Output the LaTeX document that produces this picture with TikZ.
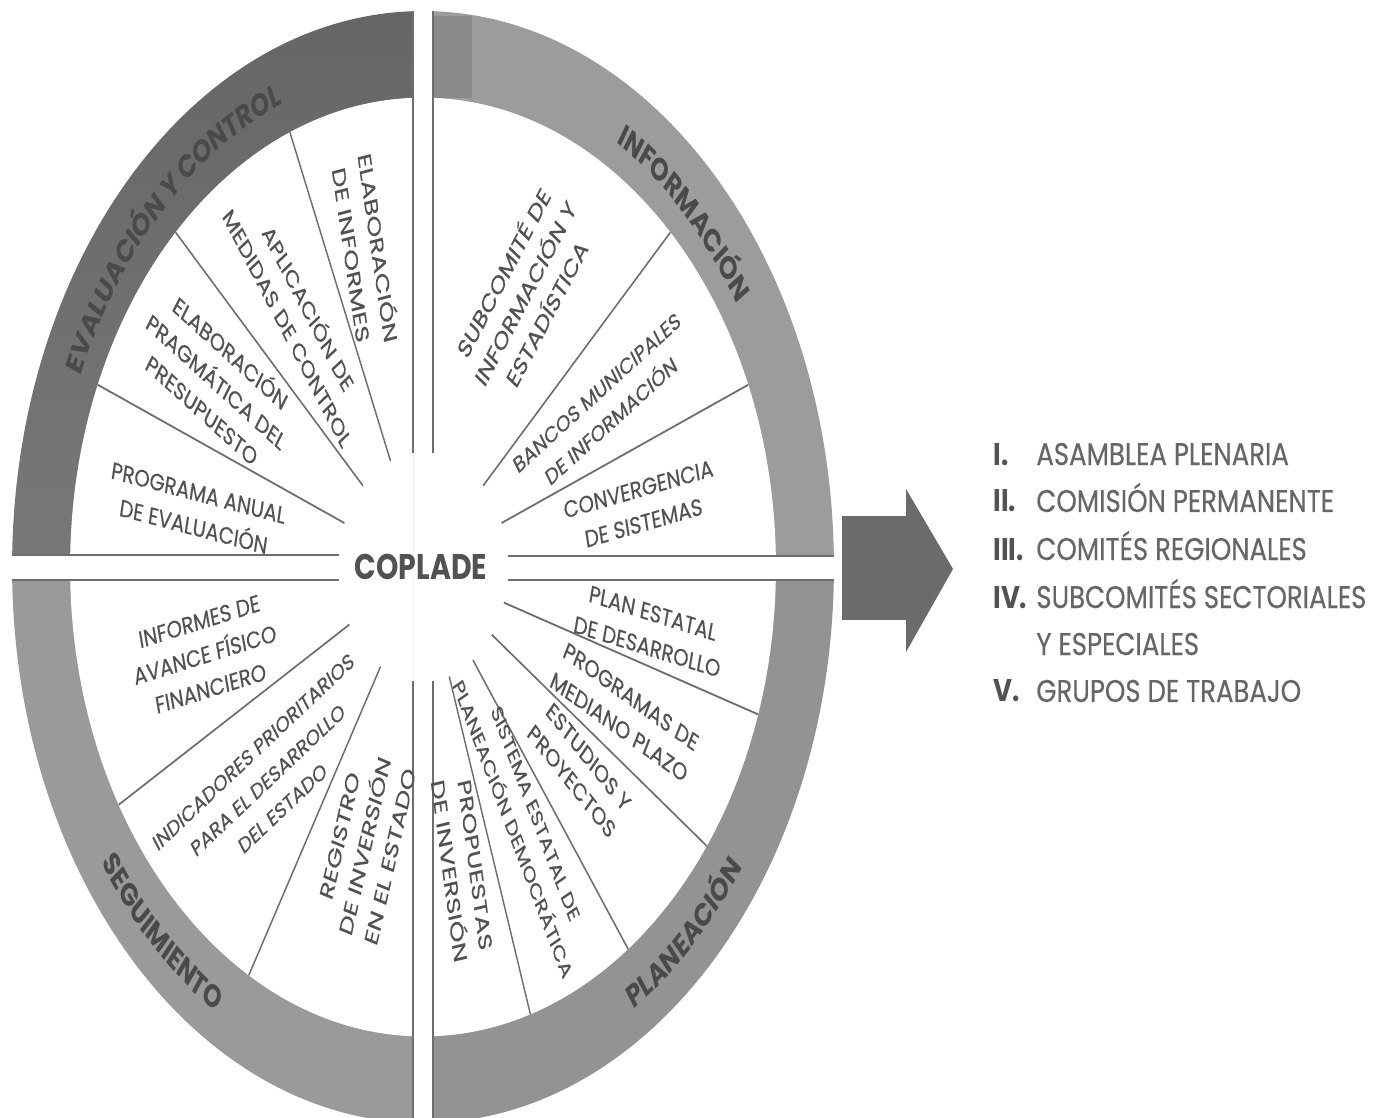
\documentclass[tikz,border=0pt]{standalone}
\usepackage{fontspec}
\setmainfont{Poppins}
\newfontfamily\wheelfont{Poppins}[FakeStretch=1.12,FakeBold=0.35]
\newfontfamily\labelfont{Poppins}
\newfontfamily\copfont{Poppins}[FakeStretch=1.08]
\newfontfamily\listfont{Poppins}[FakeStretch=1.12,FakeBold=0.4]
\newfontfamily\listnumfont{Poppins}[FakeStretch=1.12]
\usetikzlibrary{decorations.text}
\definecolor{bandAtop}{HTML}{666666}
\definecolor{bandAbot}{HTML}{8A8A8A}
\definecolor{bandB}{HTML}{9C9C9C}
\definecolor{bandC}{HTML}{9A9A9A}
\definecolor{bandD}{HTML}{939393}
\definecolor{patch}{HTML}{8A8A8A}
\definecolor{spk}{HTML}{6E6E6E}
\definecolor{txt}{HTML}{525252}
\definecolor{lbl}{HTML}{4A4A4A}
\definecolor{listc}{HTML}{666666}
\definecolor{arrowc}{HTML}{6B6B6B}
\begin{document}
\begin{tikzpicture}[x=0.02cm,y=-0.02cm,
  wt/.style 2 args={font=\wheelfont\fontsize{#1}{#2}\selectfont, text=txt, align=center, inner sep=0pt},
  spoke/.style={draw=spk, line width=0.8pt},
  edgeline/.style={draw=spk, line width=0.8pt},
  bandlabel/.style={decorate, decoration={text along path, text align=center, text color=lbl,
     text={|\labelfont\bfseries\fontsize{13.4}{13.4}\selectfont|#1}}},
  listnum/.style={font=\listnumfont\bfseries\fontsize{13.2}{15}\selectfont, text=txt, inner sep=0pt, anchor=base west},
  listtxt/.style={font=\listfont\fontsize{13.2}{15}\selectfont, text=listc, inner sep=0pt, anchor=base west}]
\useasboundingbox (0,0) rectangle (1383,1117);
\fill[white] (0,0) rectangle (1383,1117);
\begin{scope}[transform canvas={yscale=1.353}]
% quadrants (drawn as a circle, stretched vertically)
\begin{scope}
  \clip (0,0) rectangle (413,410);
  \shade[top color=bandAtop, bottom color=bandAbot] (423,419.1) circle [radius=8.22cm];
  \fill[white] (423,419.1) ellipse [x radius=7.06cm, y radius=6.94cm];
\end{scope}
\begin{scope}
  \clip (433,0) rectangle (1383,410.8);
  \fill[bandB] (423,419.1) circle [radius=8.22cm];
  \fill[patch] (433,11.8) rectangle (472,72.4);
  \fill[white] (423,419.1) ellipse [x radius=7.06cm, y radius=6.94cm];
\end{scope}
\begin{scope}
  \clip (0,428.5) rectangle (413,830);
  \fill[bandC] (423,419.1) circle [radius=8.22cm];
  \fill[white] (423,419.1) ellipse [x radius=7.06cm, y radius=6.94cm];
\end{scope}
\begin{scope}
  \clip (433,429) rectangle (1383,830);
  \fill[bandD] (423,419.1) circle [radius=8.22cm];
  \fill[white] (423,419.1) ellipse [x radius=7.06cm, y radius=6.94cm];
\end{scope}
% straight edges
\draw[edgeline] (413,8.2) -- (413,334.7);
\draw[edgeline] (433,8.2) -- (433,334.7);
\draw[edgeline] (413,503.5) -- (413,830);
\draw[edgeline] (433,503.5) -- (433,830);
\draw[edgeline] (12.1,410) -- (338.5,410);
\draw[edgeline] (507.5,410.8) -- (834,410.8);
\draw[edgeline] (12.1,428.5) -- (338.5,428.5);
\draw[edgeline] (507.5,429) -- (834,429);
% spokes
\foreach \a in {112.5,135,157.5,45,22.5,210,240,-18,-36,-54,-72} {
  \pgfmathsetmacro\ro{100*3.53*3.47/sqrt((3.47*cos(\a))^2+(3.53*sin(\a))^2)}
  \draw[spoke] ({423+85*cos(\a)},{419.1-85*sin(\a)}) -- ({423+\ro*cos(\a)},{419.1-\ro*sin(\a)});
}
% band labels
\coordinate (ecA) at ({423+370*cos(175)},{419.1-370*sin(175)});
\coordinate (ecB) at ({423+369*cos(85)},{419.1-369*sin(85)});
\coordinate (ecC) at ({423+389*cos(186)},{419.1-389*sin(186)});
\coordinate (ecD) at ({423+389*cos(274)},{419.1-389*sin(274)});
\path[bandlabel={EVALUACIÓN Y CONTROL}] (ecA) arc[start angle=175, end angle=95, radius=7.40cm];
\path[bandlabel={INFORMACIÓN}] (ecB) arc[start angle=85, end angle=5, radius=7.38cm];
\path[bandlabel={SEGUIMIENTO}] (ecC) arc[start angle=186, end angle=266, radius=7.78cm];
\path[bandlabel={PLANEACIÓN}] (ecD) arc[start angle=274, end angle=354, radius=7.78cm];
% center
\node[font=\copfont\bfseries\fontsize{15}{16}\selectfont, text=txt, inner sep=0pt] (coplade) at (421,419.1) {COPLADE};
% segment texts
\node[wt={10.6}{15.5}, rotate=-79] (t1) at (366,185.5) {ELABORACIÓN\\DE INFORMES};
\node[wt={10}{14.5}, rotate=-55] (t2) at (299,234.3) {APLICACIÓN DE\\MEDIDAS DE CONTROL};
\node[wt={10}{14.5}, rotate=-34] (t3) at (217,280.9) {ELABORACIÓN\\PRAGMÁTICA DEL\\PRESUPUESTO};
\node[wt={10}{14.5}, rotate=-11] (t4) at (196,376.9) {PROGRAMA ANUAL\\DE EVALUACIÓN};
\node[wt={10.6}{15}, rotate=55] (t5) at (524,215.8) {SUBCOMITÉ DE\\INFORMACIÓN Y\\ESTADÍSTICA};
\node[wt={9.4}{14.5}, rotate=34] (t6) at (604,300.8) {BANCOS MUNICIPALES\\DE INFORMACIÓN};
\node[wt={10}{14.5}, rotate=12] (t7) at (641,374) {CONVERGENCIA\\DE SISTEMAS};
\node[wt={10}{14.5}, rotate=13] (t8) at (205,484.1) {INFORMES DE\\AVANCE FÍSICO\\FINANCIERO};
\node[wt={9.2}{14.5}, rotate=35] (t9) at (268,576.5) {INDICADORES PRIORITARIOS\\PARA EL DESARROLLO\\DEL ESTADO};
\node[wt={10.6}{15}, rotate=73] (t10) at (365,625.3) {REGISTRO\\DE INVERSIÓN\\EN EL ESTADO};
\node[wt={10}{14.5}, rotate=-13] (t11) at (650,465.6) {PLAN ESTATAL\\DE DESARROLLO};
\node[wt={10}{14.5}, rotate=-28] (t12) at (625,526.2) {PROGRAMAS DE\\MEDIANO PLAZO};
\node[wt={10}{14}, rotate=-43] (t13) at (580,568.5) {ESTUDIOS Y\\PROYECTOS};
\node[wt={9.2}{14.5}, rotate=-63] (t14) at (524,607) {SISTEMA ESTATAL DE\\PLANEACIÓN DEMOCRÁTICA};
\node[wt={10.6}{15}, rotate=-80] (t15) at (462,641.5) {PROPUESTAS\\DE INVERSIÓN};
% arrow
\fill[arrowc] (842,381.4) -- (906,381.4) -- (906,361.4) -- (953,420.5) -- (906,481.9) -- (906,458.2) -- (842,458.2) -- cycle;
% list
\node[listnum] (n1) at (993,343.7) {I.};
\node[listtxt] (l1) at (1036,343.7) {ASAMBLEA PLENARIA};
\node[listnum] (n2) at (993,378.4) {II.};
\node[listtxt] (l2) at (1036,378.4) {COMISIÓN PERMANENTE};
\node[listnum] (n3) at (993,413.9) {III.};
\node[listtxt] (l3) at (1036,413.9) {COMITÉS REGIONALES};
\node[listnum] (n4) at (993,449.4) {IV.};
\node[listtxt] (l4) at (1036,449.4) {SUBCOMITÉS SECTORIALES};
\node[listtxt] (l4b) at (1036,484.1) {Y ESPECIALES};
\node[listnum] (n5) at (993,518.8) {V.};
\node[listtxt] (l5) at (1036,518.8) {GRUPOS DE TRABAJO};
\end{scope}
\end{tikzpicture}
\end{document}
